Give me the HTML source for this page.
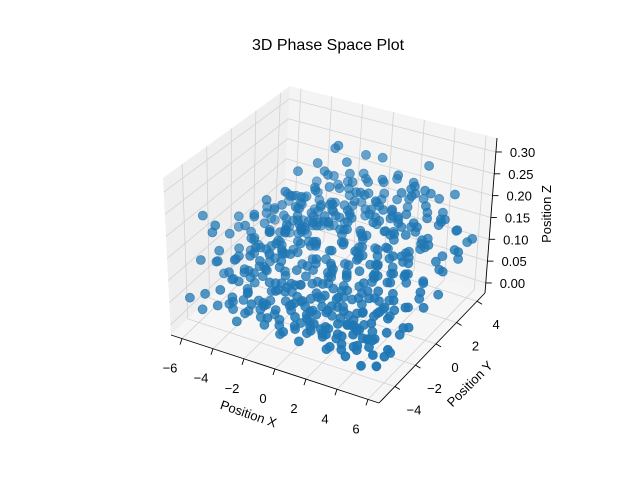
<!DOCTYPE html>
<html><head><meta charset="utf-8"><style>
body{margin:0;background:#fff;}
svg{display:block;font-family:"Liberation Sans","DejaVu Sans",sans-serif;}
</style></head><body>
<svg id="chart" width="640" height="480" viewBox="0 0 640 480">
<text x="328" y="50" text-anchor="middle" font-size="16" fill="#000">3D Phase Space Plot</text>
<g id="panes"></g>
<g id="grid"></g>
<g id="axes"></g>
<g id="points"></g>
<text transform="translate(247,418) rotate(19)" text-anchor="middle" font-size="13">Position X</text>
<text transform="translate(473,387) rotate(-45)" text-anchor="middle" font-size="13">Position Y</text>
<text transform="translate(551,214) rotate(-90)" text-anchor="middle" font-size="13">Position Z</text>
</svg>
<script>
const xTicks=[-6,-4,-2,0,2,4,6];
const yTicks=[-4,-2,0,2,4];
const zTicks=[0,0.05,0.10,0.15,0.20,0.25,0.30];
const zTickLabels=["0.00","0.05","0.10","0.15","0.20","0.25","0.30"];
const xValues=[
-6,-5.8,-6.2,-5.9,-6.1,-5.7,-6.3,-5.85,-6.15,-5.75,-6.25,-5.95,
-5.5,-5.3,-5.7,-5.4,-5.6,-5.2,-5.8,-5.35,-5.65,-5.25,-5.75,-5.45,
-5,-4.8,-5.2,-4.9,-5.1,-4.7,-5.3,-4.85,-5.15,-4.75,-5.25,-4.95,
-4.5,-4.3,-4.7,-4.4,-4.6,-4.2,-4.8,-4.35,-4.65,-4.25,-4.75,-4.45,
-4,-3.8,-4.2,-3.9,-4.1,-3.7,-4.3,-3.85,-4.15,-3.75,-4.25,-3.95,
-3.5,-3.3,-3.7,-3.4,-3.6,-3.2,-3.8,-3.35,-3.65,-3.25,-3.75,-3.45,
-3,-2.8,-3.2,-2.9,-3.1,-2.7,-3.3,-2.85,-3.15,-2.75,-3.25,-2.95,
-2.5,-2.3,-2.7,-2.4,-2.6,-2.2,-2.8,-2.35,-2.65,-2.25,-2.75,-2.45,
-2,-1.8,-2.2,-1.9,-2.1,-1.7,-2.3,-1.85,-2.15,-1.75,-2.25,-1.95,
-1.5,-1.3,-1.7,-1.4,-1.6,-1.2,-1.8,-1.35,-1.65,-1.25,-1.75,-1.45,
-1,-0.8,-1.2,-0.9,-1.1,-0.7,-1.3,-0.85,-1.15,-0.75,-1.25,-0.95,
-0.5,-0.3,-0.7,-0.4,-0.6,-0.2,-0.8,-0.35,-0.65,-0.25,-0.75,-0.45,
0,0.2,-0.2,0.1,-0.1,0.3,-0.3,0.15,-0.15,0.25,-0.25,0.05,
0.5,0.7,0.3,0.6,0.4,0.8,0.2,0.65,0.35,0.75,0.25,0.55,
1,1.2,0.8,1.1,0.9,1.3,0.7,1.15,0.85,1.25,0.75,1.05,
1.5,1.7,1.3,1.6,1.4,1.8,1.2,1.65,1.35,1.75,1.25,1.55,
2,2.2,1.8,2.1,1.9,2.3,1.7,2.15,1.85,2.25,1.75,2.05,
2.5,2.7,2.3,2.6,2.4,2.8,2.2,2.65,2.35,2.75,2.25,2.55,
3,3.2,2.8,3.1,2.9,3.3,2.7,3.15,2.85,3.25,2.75,3.05,
3.5,3.7,3.3,3.6,3.4,3.8,3.2,3.65,3.35,3.75,3.25,3.55,
4,4.2,3.8,4.1,3.9,4.3,3.7,4.15,3.85,4.25,3.75,4.05,
4.5,4.7,4.3,4.6,4.4,4.8,4.2,4.65,4.35,4.75,4.25,4.55,
5,5.2,4.8,5.1,4.9,5.3,4.7,5.15,4.85,5.25,4.75,5.05,
5.5,5.7,5.3,5.6,5.4,5.8,5.2,5.65,5.35,5.75,5.25,5.55,
6,6.2,5.8,6.1,5.9,6.3,5.7,6.15,5.85,6.25,5.75,6.05,
-4.25,-4.05,-4.45,-4.15,-4.35,-3.95,-4.55,-4.1,-4.4,-4.0,-4.5,-4.2,
-3.75,-3.55,-3.95,-3.65,-3.85,-3.45,-4.05,-3.6,-3.9,-3.5,-4.0,-3.7,
-3.25,-3.05,-3.45,-3.15,-3.35,-2.95,-3.55,-3.1,-3.4,-3.0,-3.5,-3.2,
-2.75,-2.55,-2.95,-2.65,-2.85,-2.45,-3.05,-2.6,-2.9,-2.5,-3.0,-2.7,
-2.25,-2.05,-2.45,-2.15,-2.35,-1.95,-2.55,-2.1,-2.4,-2.0,-2.5,-2.2,
-1.75,-1.55,-1.95,-1.65,-1.85,-1.45,-2.05,-1.6,-1.9,-1.5,-2.0,-1.7,
-1.25,-1.05,-1.45,-1.15,-1.35,-0.95,-1.55,-1.1,-1.4,-1.0,-1.5,-1.2,
-0.75,-0.55,-0.95,-0.65,-0.85,-0.45,-1.05,-0.6,-0.9,-0.5,-1.0,-0.7,
-0.25,-0.05,-0.45,-0.15,-0.35,0.05,-0.55,-0.1,-0.4,0.0,-0.5,-0.2,
0.25,0.45,0.05,0.35,0.15,0.55,-0.05,0.4,0.1,0.5,0.0,0.3,
0.75,0.95,0.55,0.85,0.65,1.05,0.45,0.9,0.6,1.0,0.5,0.8,
1.25,1.45,1.05,1.35,1.15,1.55,0.95,1.4,1.1,1.5,1.0,1.3,
1.75,1.95,1.55,1.85,1.65,2.05,1.45,1.9,1.6,2.0,1.5,1.8,
2.25,2.45,2.05,2.35,2.15,2.55,1.95,2.4,2.1,2.5,2.0,2.3,
2.75,2.95,2.55,2.85,2.65,3.05,2.45,2.9,2.6,3.0,2.5,2.8,
3.25,3.45,3.05,3.35,3.15,3.55,2.95,3.4,3.1,3.5,3.0,3.3,
3.75,3.95,3.55,3.85,3.65,4.05,3.45,3.9,3.6,4.0,3.5,3.8,
4.25,4.45,4.05,4.35,4.15,4.55,3.95,4.4,4.1,4.5,4.0,4.3];
const yValues=[
-4.7,-3.9,-3.1,-2.3,-1.5,-0.7,0.1,0.9,1.7,2.5,3.3,4.1,
-4.3,-3.5,-2.7,-1.9,-1.1,-0.3,0.5,1.3,2.1,2.9,3.7,4.4,
-4.7,-3.9,-3.1,-2.3,-1.5,-0.7,0.1,0.9,1.7,2.5,3.3,4.1,
-4.3,-3.5,-2.7,-1.9,-1.1,-0.3,0.5,1.3,2.1,2.9,3.7,4.4,
-4.7,-3.9,-3.1,-2.3,-1.5,-0.7,0.1,0.9,1.7,2.5,3.3,4.1,
-4.3,-3.5,-2.7,-1.9,-1.1,-0.3,0.5,1.3,2.1,2.9,3.7,4.4,
-4.7,-3.9,-3.1,-2.3,-1.5,-0.7,0.1,0.9,1.7,2.5,3.3,4.1,
-4.3,-3.5,-2.7,-1.9,-1.1,-0.3,0.5,1.3,2.1,2.9,3.7,4.4,
-4.7,-3.9,-3.1,-2.3,-1.5,-0.7,0.1,0.9,1.7,2.5,3.3,4.1,
-4.3,-3.5,-2.7,-1.9,-1.1,-0.3,0.5,1.3,2.1,2.9,3.7,4.4,
-4.7,-3.9,-3.1,-2.3,-1.5,-0.7,0.1,0.9,1.7,2.5,3.3,4.1,
-4.3,-3.5,-2.7,-1.9,-1.1,-0.3,0.5,1.3,2.1,2.9,3.7,4.4,
-4.7,-3.9,-3.1,-2.3,-1.5,-0.7,0.1,0.9,1.7,2.5,3.3,4.1,
-4.3,-3.5,-2.7,-1.9,-1.1,-0.3,0.5,1.3,2.1,2.9,3.7,4.4,
-4.7,-3.9,-3.1,-2.3,-1.5,-0.7,0.1,0.9,1.7,2.5,3.3,4.1,
-4.3,-3.5,-2.7,-1.9,-1.1,-0.3,0.5,1.3,2.1,2.9,3.7,4.4,
-4.7,-3.9,-3.1,-2.3,-1.5,-0.7,0.1,0.9,1.7,2.5,3.3,4.1,
-4.3,-3.5,-2.7,-1.9,-1.1,-0.3,0.5,1.3,2.1,2.9,3.7,4.4,
-4.7,-3.9,-3.1,-2.3,-1.5,-0.7,0.1,0.9,1.7,2.5,3.3,4.1,
-4.3,-3.5,-2.7,-1.9,-1.1,-0.3,0.5,1.3,2.1,2.9,3.7,4.4,
-4.7,-3.9,-3.1,-2.3,-1.5,-0.7,0.1,0.9,1.7,2.5,3.3,4.1,
-4.3,-3.5,-2.7,-1.9,-1.1,-0.3,0.5,1.3,2.1,2.9,3.7,4.4,
-4.7,-3.9,-3.1,-2.3,-1.5,-0.7,0.1,0.9,1.7,2.5,3.3,4.1,
-4.3,-3.5,-2.7,-1.9,-1.1,-0.3,0.5,1.3,2.1,2.9,3.7,4.4,
-4.7,-3.9,-3.1,-2.3,-1.5,-0.7,0.1,0.9,1.7,2.5,3.3,4.1,
-3.6,-3.0,-2.4,-1.8,-1.2,-0.6,0,0.6,1.2,1.8,2.4,3.0,
-4.0,-3.3,-2.6,-2.0,-1.4,-0.9,-0.2,0.4,1.0,1.6,2.2,3.4,
-3.6,-3.0,-2.4,-1.8,-1.2,-0.6,0,0.6,1.2,1.8,2.4,3.0,
-4.0,-3.3,-2.6,-2.0,-1.4,-0.9,-0.2,0.4,1.0,1.6,2.2,3.4,
-3.6,-3.0,-2.4,-1.8,-1.2,-0.6,0,0.6,1.2,1.8,2.4,3.0,
-4.0,-3.3,-2.6,-2.0,-1.4,-0.9,-0.2,0.4,1.0,1.6,2.2,3.4,
-3.6,-3.0,-2.4,-1.8,-1.2,-0.6,0,0.6,1.2,1.8,2.4,3.0,
-4.0,-3.3,-2.6,-2.0,-1.4,-0.9,-0.2,0.4,1.0,1.6,2.2,3.4,
-3.6,-3.0,-2.4,-1.8,-1.2,-0.6,0,0.6,1.2,1.8,2.4,3.0,
-4.0,-3.3,-2.6,-2.0,-1.4,-0.9,-0.2,0.4,1.0,1.6,2.2,3.4,
-3.6,-3.0,-2.4,-1.8,-1.2,-0.6,0,0.6,1.2,1.8,2.4,3.0,
-4.0,-3.3,-2.6,-2.0,-1.4,-0.9,-0.2,0.4,1.0,1.6,2.2,3.4,
-3.6,-3.0,-2.4,-1.8,-1.2,-0.6,0,0.6,1.2,1.8,2.4,3.0,
-4.0,-3.3,-2.6,-2.0,-1.4,-0.9,-0.2,0.4,1.0,1.6,2.2,3.4,
-3.6,-3.0,-2.4,-1.8,-1.2,-0.6,0,0.6,1.2,1.8,2.4,3.0,
-4.0,-3.3,-2.6,-2.0,-1.4,-0.9,-0.2,0.4,1.0,1.6,2.2,3.4,
-3.6,-3.0,-2.4,-1.8,-1.2,-0.6,0,0.6,1.2,1.8,2.4,3.0,
-4.0,-3.3,-2.6,-2.0,-1.4,-0.9,-0.2,0.4,1.0,1.6,2.2,3.4];
const zValues=[
.05,.12,.20,.08,.03,.15,.10,.06,.02,.09,.04,.07,
.02,.18,.09,.14,.06,.11,.04,.13,.08,.03,.10,.05,
.07,.21,.13,.05,.10,.16,.08,.03,.12,.06,.02,.09,
.04,.10,.06,.17,.12,.08,.14,.05,.09,.11,.03,.06,
.09,.03,.12,.08,.19,.14,.06,.10,.16,.07,.12,.04,
.06,.11,.05,.13,.22,.09,.17,.12,.07,.15,.08,.03,
.03,.08,.14,.10,.16,.24,.12,.19,.09,.13,.06,.10,
.05,.02,.09,.15,.11,.18,.26,.14,.11,.20,.09,.05,
.08,.06,.04,.11,.07,.13,.20,.28,.16,.12,.17,.08,
.03,.09,.07,.05,.12,.09,.15,.22,.29,.18,.14,.11,
.06,.04,.10,.08,.06,.14,.11,.18,.31,.21,.13,.09,
.02,.07,.05,.12,.09,.07,.16,.13,.24,.27,.19,.12,
.04,.03,.08,.06,.13,.10,.08,.19,.15,.22,.17,.14,
.07,.05,.02,.09,.07,.15,.12,.10,.20,.16,.25,.11,
.03,.08,.06,.04,.11,.09,.17,.14,.12,.23,.18,.15,
.05,.02,.09,.07,.05,.13,.10,.18,.15,.11,.21,.13,
.08,.04,.03,.10,.08,.06,.14,.12,.19,.16,.13,.20,
.02,.06,.05,.03,.12,.09,.07,.15,.13,.22,.18,.16,
.04,.03,.08,.06,.04,.11,.13,.09,.17,.24,.20,.14,
.06,.02,.04,.09,.07,.05,.12,.16,.10,.19,.26,.17,
.03,.07,.05,.03,.10,.08,.14,.11,.18,.13,.21,.15,
.05,.03,.06,.08,.04,.12,.09,.15,.12,.17,.14,.19,
.02,.06,.04,.07,.09,.06,.11,.08,.14,.10,.16,.12,
.04,.02,.05,.03,.07,.09,.05,.12,.08,.11,.13,.09,
.03,.05,.02,.06,.04,.07,.10,.06,.09,.12,.08,.11,
.03,.07,.11,.05,.09,.04,.13,.08,.06,.10,.14,.07,
.06,.04,.09,.13,.07,.11,.05,.15,.10,.08,.12,.16,
.02,.10,.06,.08,.15,.09,.12,.07,.18,.11,.06,.13,
.08,.05,.12,.04,.10,.17,.08,.14,.11,.20,.09,.12,
.04,.09,.03,.11,.07,.13,.19,.10,.15,.12,.22,.08,
.07,.03,.08,.06,.12,.09,.15,.23,.13,.17,.11,.18,
.05,.08,.04,.10,.05,.14,.11,.17,.25,.14,.19,.12,
.03,.06,.09,.04,.08,.06,.13,.10,.19,.28,.16,.21,
.06,.02,.05,.08,.11,.07,.09,.15,.12,.21,.17,.14,
.04,.07,.03,.06,.04,.10,.12,.08,.16,.13,.20,.10,
.02,.05,.08,.03,.09,.06,.14,.11,.09,.18,.15,.22,
.05,.03,.06,.09,.05,.12,.08,.16,.13,.10,.19,.13,
.03,.08,.04,.05,.10,.07,.11,.09,.17,.14,.12,.24,
.06,.02,.07,.04,.06,.09,.13,.10,.08,.20,.16,.18,
.04,.05,.03,.08,.05,.11,.07,.14,.12,.16,.22,.13,
.02,.06,.04,.03,.09,.06,.12,.09,.15,.11,.18,.21,
.05,.03,.07,.05,.04,.10,.08,.13,.10,.17,.14,.16,
.03,.04,.02,.07,.06,.05,.11,.08,.12,.15,.11,.14];

const XMIN=-6.71,XMAX=6.71,YMIN=-5.55,YMAX=4.77,ZMIN=-0.023,ZMAX=0.332;
const C={p000:[171,335],p100:[379,403],p110:[485,293],p010:[283,228],
         p001:[163,178],p101:[376,241],p111:[497,138],p011:[290,86]};
const NS="http://www.w3.org/2000/svg";
function lerp(a,b,t){return [a[0]+(b[0]-a[0])*t,a[1]+(b[1]-a[1])*t];}
function proj(x,y,z){
  const u=(x-XMIN)/(XMAX-XMIN),v=(y-YMIN)/(YMAX-YMIN),w=(z-ZMIN)/(ZMAX-ZMIN);
  const b=lerp(lerp(C.p000,C.p100,u),lerp(C.p010,C.p110,u),v);
  const t=lerp(lerp(C.p001,C.p101,u),lerp(C.p011,C.p111,u),v);
  return lerp(b,t,w);
}
function mk(tag,attrs,parent){const e=document.createElementNS(NS,tag);for(const k in attrs)e.setAttribute(k,attrs[k]);parent.appendChild(e);return e;}
function poly(pts,fill,parent,name){
  const e=mk('polygon',{points:pts.map(p=>p.join(',')).join(' '),fill:fill,stroke:'none'},parent);
  
  
}
const panes=document.getElementById('panes');
poly([C.p000,C.p010,C.p011,C.p001],'#efefef',panes,'left-pane');
poly([C.p010,C.p110,C.p111,C.p011],'#f4f4f4',panes,'back-pane');
poly([C.p000,C.p100,C.p110,C.p010],'#f6f6f6',panes,'floor-pane');
const grid=document.getElementById('grid');
function line(a,b,parent,stroke,w,name){
  const e=mk('line',{x1:a[0],y1:a[1],x2:b[0],y2:b[1],stroke:stroke,'stroke-width':w},parent);
  
  
}
const G='#d2d2d2';
xTicks.forEach(x=>{
  line(proj(x,YMIN,ZMIN),proj(x,YMAX,ZMIN),grid,G,0.8,'floor-grid-x');
  line(proj(x,YMAX,ZMIN),proj(x,YMAX,ZMAX),grid,G,0.8,'back-grid-x');
});
yTicks.forEach(y=>{
  line(proj(XMIN,y,ZMIN),proj(XMAX,y,ZMIN),grid,G,0.8,'floor-grid-y');
  line(proj(XMIN,y,ZMIN),proj(XMIN,y,ZMAX),grid,G,0.8,'left-grid-y');
});
zTicks.forEach(z=>{
  line(proj(XMIN,YMIN,z),proj(XMIN,YMAX,z),grid,G,0.8,'left-grid-z');
  line(proj(XMIN,YMAX,z),proj(XMAX,YMAX,z),grid,G,0.8,'back-grid-z');
});
const axes=document.getElementById('axes');
line(C.p000,C.p100,axes,'#000',0.9,'x-axis-line');
line(C.p100,C.p110,axes,'#000',0.9,'y-axis-line');
line(C.p110,C.p111,axes,'#000',0.9,'z-axis-line');
function label(txt,p,anchor,name){
  const e=mk('text',{x:p[0],y:p[1],'text-anchor':anchor,'font-size':13,fill:'#000'},axes);
  e.textContent=txt;
  
  
}
xTicks.forEach(x=>{
  const p=proj(x,YMIN,ZMIN);
  line(p,[p[0]-2,p[1]+6],axes,'#000',0.9,'x-tick-mark');
  label(String(x).replace('-','\u2212'),[p[0]-12,p[1]+34],'middle','x-tick-label');
});
yTicks.forEach(y=>{
  const p=proj(XMAX,y,ZMIN);
  line(p,[p[0]+5,p[1]+3],axes,'#000',0.9,'y-tick-mark');
  label(String(y).replace('-','\u2212'),[p[0]+19,p[1]+28],'middle','y-tick-label');
});
zTicks.forEach((z,i)=>{
  const p=proj(XMAX,YMAX,z);
  line(p,[p[0]+6,p[1]],axes,'#000',0.9,'z-tick-mark');
  label(zTickLabels[i],[p[0]+14,p[1]+5],'start','z-tick-label');
});
const pts=document.getElementById('points');
const n=Math.min(xValues.length,yValues.length,zValues.length);
const order=[];
for(let i=0;i<n;i++)order.push(i);
const depth=i=>(xValues[i]-XMIN)/(XMAX-XMIN)-(yValues[i]-YMIN)/(YMAX-YMIN);
order.sort((a,b)=>depth(a)-depth(b));
order.forEach(i=>{
  const p=proj(xValues[i],yValues[i],zValues[i]);
  const d=(depth(i)+1)/2;
  const c=mk('circle',{cx:p[0].toFixed(1),cy:p[1].toFixed(1),r:4.5,fill:'#1f77b4','fill-opacity':(0.5+0.5*d).toFixed(2),stroke:'#1f77b4','stroke-opacity':(0.5+0.5*d).toFixed(2),'stroke-width':0.8},pts);
  
  
});
</script>
</body></html>
